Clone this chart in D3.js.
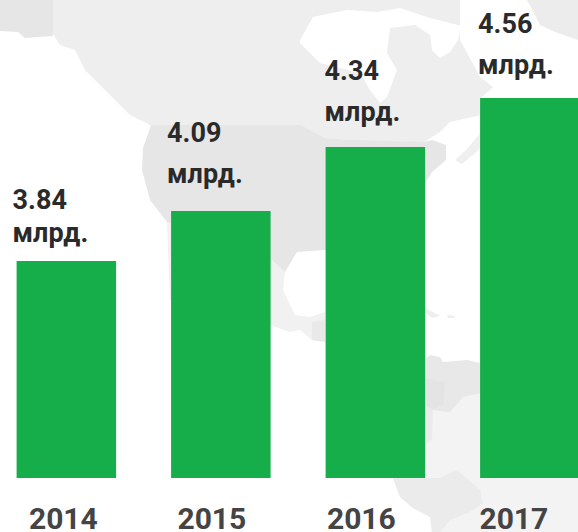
<!DOCTYPE html>
<html>
<head>
<meta charset="utf-8">
<style>
html, body { margin: 0; padding: 0; background: #fff; }
svg { display: block; }
text { font-family: Roboto, sans-serif; font-weight: 700; }
.value { font-size: 27px; fill: #2a2a2a; }
.axis text { font-size: 30px; fill: #444; }
.axis path, .axis line { display: none; }
</style>
</head>
<body>
<svg width="578" height="532"></svg>
<script src="https://d3js.org/d3.v7.min.js"></script>
<script>

var years = ["2014", "2015", "2016", "2017"];
var values = [3.84, 4.09, 4.34, 4.56];
var unit = "млрд.";

var svg = d3.select("svg"),
    width = +svg.attr("width"),
    height = +svg.attr("height");

// the bars in the picture are not quite to scale, so the scale follows them
var x = d3.scaleBand().domain(years).range([16.6, 579.6]).paddingInner(0.356).paddingOuter(0);
var y = d3.scaleLinear().domain([2.75, 3.84, 4.09, 4.34, 4.56]).range([478, 261, 211, 147, 98]);

// label placement in the picture is uneven, bar by bar
var labelDx = [-4, -4, -1, -2];
var numberDy = [-52, -69, -67, -65];
var unitDy = [-19, -28, -26, -24];
var yearDx = [-3, -9, -14, -16];

// faint map behind the bars, traced by hand
var land = [
  ["#eeeeee", "M53,0 L460,0 L460,40 L472,62 L480,77 L493,87 L481,98 L481,115 L450,122 L440,132 L424,142 L372,146 L352,140 L325,138 L300,126 L152,126 L130,115 L115,100 L100,85 L85,70 L75,50 L60,45 L53,34 Z"],
  ["#e6e6e6", "M0,31 L18,32 L25,38 L53,36 L53,0 L0,0 Z"],
  ["#e6e6e6", "M151,125 L300,125 L325,138 L352,140 L424,142 L432,140 L446,145 L446,160 L432,172 L424,185 L424,260 L325,250 L297,252 L285,272 L270,260 L240,246 L200,232 L167,222 L150,200 L142,170 L143,148 Z"],
  ["#f1f1f1", "M167,222 L270,258 L285,272 L283,290 L295,315 L310,317 L325,312 L325,342 L312,340 L300,330 L290,332 L270,325 L170,300 Z"],
  ["#e9e9e9", "M312,322 L325,320 L325,342 L312,340 Z"],
  ["#eeeeee", "M424,307 L440,316 L432,318 L424,312 Z M447,315 L455,316 L454,318 L448,318 Z"],
  ["#f3f3f3", "M424,400 L481,390 L578,400 L578,532 L432,532 L430,517 L413,508 L400,497 L393,478 L424,478 Z"],
  ["#e8e8e8", "M424,360 L430,355 L440,357 L443,362 L467,360 L481,363 L481,393 L463,397 L450,412 L433,410 L424,405 Z"],
  ["#e4e4e4", "M424,378 L445,382 L444,404 L433,410 L424,405 Z"],
  ["#ebebeb", "M424,405 L433,410 L432,440 L424,445 Z"],
  ["#ebebeb", "M393,478 L440,478 L457,470 L480,490 L483,503 L470,512 L450,520 L440,532 L432,532 L430,517 L413,508 L400,497 Z"],
  ["#ececec", "M527,0 L578,0 L578,40 L555,32 L540,25 Z"],
  ["#efefef", "M455,160 L468,148 L481,132 L481,148 L462,164 Z"]
];

svg.append("g")
  .selectAll("path")
  .data(land)
  .enter().append("path")
    .attr("d", function(d) { return d[1]; })
    .attr("fill", function(d) { return d[0]; });

// Hudson Bay and the strait are cut out of Canada
svg.append("path")
    .attr("d", "M300,40 L313,17 L347,10 L378,12 L400,8 L430,18 L462,26 L458,40 L450,52 L440,58 L432,50 L430,35 L415,25 L390,28 L387,53 L397,70 L387,97 L380,103 L370,90 L360,73 L320,63 L300,43 Z")
    .attr("fill", "#fff");

svg.append("g")
  .selectAll("rect")
  .data(values)
  .enter().append("rect")
    .attr("x", function(d, i) { return x(years[i]); })
    .attr("y", function(d) { return y(d); })
    .attr("width", x.bandwidth())
    .attr("height", function(d) { return y.range()[0] - y(d); })
    .attr("fill", "#16ae4b");

var labels = svg.append("g")
  .selectAll("g")
  .data(values)
  .enter().append("g")
    .attr("transform", function(d, i) { return "translate(" + (x(years[i]) + labelDx[i]) + "," + y(d) + ")"; });

labels.append("text")
    .attr("class", "value")
    .attr("y", function(d, i) { return numberDy[i]; })
    .text(function(d) { return d.toFixed(2); });

labels.append("text")
    .attr("class", "value")
    .attr("y", function(d, i) { return unitDy[i]; })
    .text(unit);

var axis = svg.append("g")
    .attr("class", "axis")
    .attr("transform", "translate(0,478)")
    .call(d3.axisBottom(x).tickSize(0).tickPadding(0));

axis.selectAll("text")
    .attr("dy", null)
    .attr("y", 51)
    .attr("dx", function(d, i) { return yearDx[i]; });

</script>
</body>
</html>
